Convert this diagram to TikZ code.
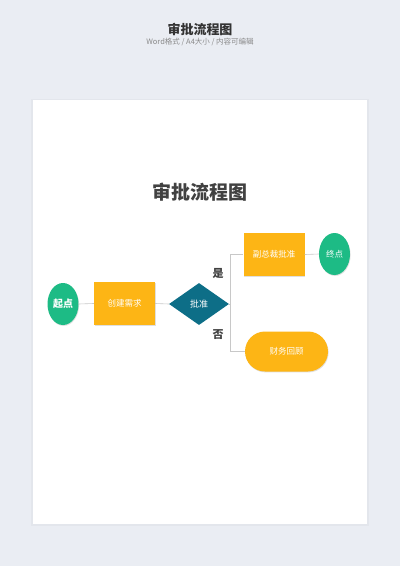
\documentclass[tikz,border=0pt]{standalone}
\usepackage{fontspec}
\setmainfont{Noto Sans CJK SC}
\usetikzlibrary{shapes.geometric,shadows}
\definecolor{bgc}{HTML}{EAEDF3}
\definecolor{pageedge}{HTML}{DFE2E8}
\definecolor{greenc}{HTML}{1DBB85}
\definecolor{orangec}{HTML}{FDB515}
\definecolor{tealc}{HTML}{0D6E87}
\definecolor{linec}{HTML}{C8C8C8}
\definecolor{titlec}{HTML}{333333}
\definecolor{innertitle}{HTML}{414141}
\definecolor{subc}{HTML}{8A8A8A}
\tikzset{
  shd/.style={drop shadow={opacity=0.25,shadow xshift=0.6pt,shadow yshift=-0.9pt}},
  termin/.style={ellipse,fill=greenc,minimum width=31pt,minimum height=42pt,inner sep=0pt,text=white,shd},
  procbox/.style={rectangle,fill=orangec,minimum width=61pt,minimum height=43pt,inner sep=0pt,text=white,font=\fontsize{8.5pt}{10pt}\selectfont,shd},
  decis/.style={diamond,fill=tealc,minimum width=60pt,minimum height=42pt,inner sep=0pt,aspect=1.43,text=white,font=\fontsize{9pt}{10pt}\selectfont},
  stadium/.style={rectangle,rounded corners=20pt,fill=orangec,minimum width=83pt,minimum height=40pt,inner sep=0pt,text=white,font=\fontsize{8.5pt}{10pt}\selectfont,shd},
  conn/.style={draw=linec,line width=0.6pt},
  branchlbl/.style={text=innertitle,font=\bfseries\fontsize{11pt}{12pt}\selectfont}
}
\begin{document}
\begin{tikzpicture}[x=1pt,y=-1pt]
\fill[bgc] (0,0) rectangle (400,566);
\useasboundingbox (0,0) rectangle (400,566);
% page with soft edge
\fill[pageedge,opacity=0.6] (31,98.5) rectangle (369,526);
\fill[white] (33,100) rectangle (367,524);
% header
\node[text=titlec,font=\bfseries\fontsize{13pt}{14pt}\selectfont] (htitle) at (200,29) {审批流程图};
\node[text=subc,font=\fontsize{7.5pt}{8pt}\selectfont] (hsub) at (200,42) {Word格式 / A4大小 / 内容可编辑};
% inner title
\node[text=innertitle,font=\bfseries\fontsize{19pt}{20pt}\selectfont] (ititle) at (200,192) {审批流程图};
% nodes
\node[termin,font=\bfseries\fontsize{10pt}{11pt}\selectfont] (start) at (63,304) {起点};
\node[procbox] (create) at (124.5,303.5) {创建需求};
\node[decis] (approve) at (199,304) {批准};
\node[procbox] (vp) at (274,254.5) {副总裁批准};
\node[termin,font=\fontsize{8.5pt}{10pt}\selectfont] (end) at (334.5,254) {终点};
\node[stadium] (fin) at (286.5,351.5) {财务回顾};
\coordinate (bx) at (230,304);
% connectors
\draw[conn] (start.east) -- (create.west);
\draw[conn] (create.east) -- (approve.west);
\draw[conn] (approve.east) -- (bx);
\draw[conn] (bx) |- (vp.west);
\draw[conn] (bx) |- (fin.west);
\draw[conn] (vp.east) -- (end.west);
% branch labels
\node[branchlbl] (yes) at (218,273) {是};
\node[branchlbl] (no) at (218,335) {否};
\end{tikzpicture}
\end{document}
